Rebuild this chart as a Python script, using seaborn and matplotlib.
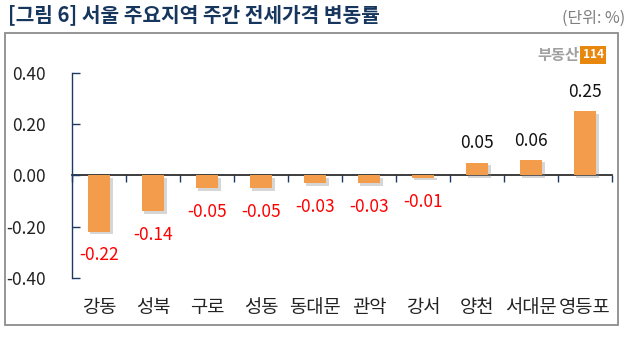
import matplotlib
matplotlib.use("Agg")
import matplotlib.pyplot as plt
import matplotlib.patheffects as pe
from matplotlib.patches import Rectangle
import seaborn as sns
import pandas as pd

# Weekly jeonse price change by district (%)
districts = ["강동", "성북", "구로", "성동", "동대문", "관악", "강서", "양천", "서대문", "영등포"]
changes = [-0.22, -0.14, -0.05, -0.05, -0.03, -0.03, -0.01, 0.05, 0.06, 0.25]
y_ticks = [-0.40, -0.20, 0.00, 0.20, 0.40]

title_text = "[그림 6] 서울 주요지역 주간 전세가격 변동률"
unit_text = "(단위: %)"

sns.set_theme(style="white")
plt.rcParams["font.family"] = ["Noto Sans CJK KR", "DejaVu Sans"]

navy = "#1F3864"
bar_color = "#F39C4B"

df = pd.DataFrame({"district": districts, "change": changes})

fig = plt.figure(figsize=(6.36, 3.43), dpi=100)
W, H = 636, 343
ax = fig.add_axes([72 / W, 1 - 278 / H, 540 / W, (278 - 72.7) / H])

sns.barplot(data=df, x="district", y="change", color=bar_color, width=0.41,
            saturation=1, ax=ax, zorder=3)

for p in ax.patches:
    p.set_edgecolor("none")
    p.set_path_effects([
        pe.SimplePatchShadow(offset=(1.8, -1.8), shadow_rgbFace="#8a8a8a", alpha=0.35),
        pe.Normal(),
    ])

ax.set_ylim(-0.4, 0.4)
ax.set_xlim(-0.5, len(districts) - 0.5)
ax.set_yticks(y_ticks)
ax.set_yticklabels([f"{v:.2f}" for v in y_ticks])
ax.set_xlabel("")
ax.set_ylabel("")

for s in ["top", "right", "bottom"]:
    ax.spines[s].set_visible(False)
ax.spines["left"].set_color(navy)
ax.spines["left"].set_linewidth(1.0)

ax.tick_params(axis="y", direction="in", length=6, width=1, color=navy,
               pad=19, labelsize=12.5, labelcolor="#222222", left=True)
ax.tick_params(axis="x", length=0, pad=14, labelsize=13.5, labelcolor="#222222")

# zero baseline with category boundary ticks
zero_ax = ax.secondary_xaxis(0.5)
zero_ax.set_xticks([i - 0.5 for i in range(len(districts) + 1)])
zero_ax.set_xticklabels([])
zero_ax.tick_params(direction="in", length=5, width=1, color=navy)
zero_ax.spines["bottom"].set_color(navy)
zero_ax.spines["bottom"].set_linewidth(1.0)

# value labels
for i, v in enumerate(changes):
    if v < 0:
        ax.annotate(f"{v:.2f}", (i, v), xytext=(0, -17), textcoords="offset points",
                    ha="center", va="center", fontsize=12.5, color="#FF0000")
    else:
        ax.annotate(f"{v:.2f}", (i, v), xytext=(0, 14), textcoords="offset points",
                    ha="center", va="center", fontsize=12.5, color="#111111")

# outer frame
fig.patches.append(Rectangle((5 / W, 1 - 325 / H), 613 / W, 292 / H,
                             transform=fig.transFigure, fill=False,
                             edgecolor="#8c8c8c", linewidth=1.3))

fig.text(8 / W, 1 - 15 / H, title_text, ha="left", va="center",
         fontsize=14.6, fontweight="bold", color="#17365D")
fig.text(625 / W, 1 - 18 / H, unit_text, ha="right", va="center",
         fontsize=11.5, color="#7f7f7f")

# brand mark
fig.text(579 / W, 1 - 55 / H, "부동산", ha="right", va="center",
         fontsize=11, fontweight="bold", color="#a0a0a0")
fig.text(593 / W, 1 - 55 / H, "114", ha="center", va="center",
         fontsize=8.5, fontweight="bold", color="white",
         bbox=dict(boxstyle="square,pad=0.25", facecolor="#E8870E", edgecolor="none"))

fig.savefig("out.png", dpi=100)
